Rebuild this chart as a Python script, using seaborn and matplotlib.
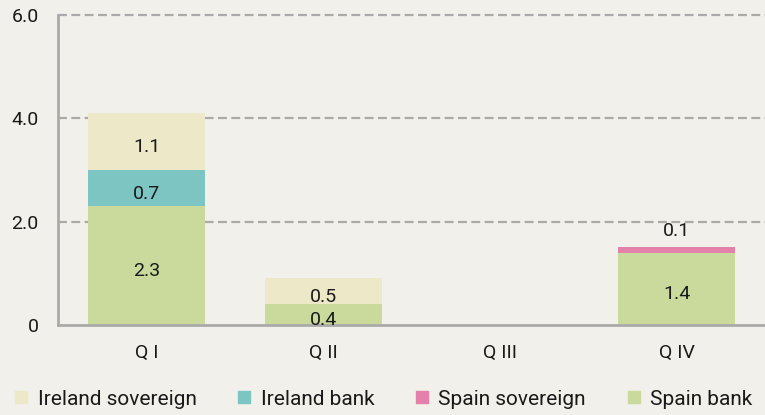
import seaborn as sns
import matplotlib.pyplot as plt
import pandas as pd
import numpy as np
from matplotlib.lines import Line2D

# Data (EUR bn) by quarter
quarters = ["Q I", "Q II", "Q III", "Q IV"]
spain_bank = [2.3, 0.4, 0.0, 1.4]
ireland_bank = [0.7, 0.0, 0.0, 0.0]
spain_sovereign = [0.0, 0.0, 0.0, 0.1]
ireland_sovereign = [1.1, 0.5, 0.0, 0.0]

series = ["Spain bank", "Ireland bank", "Spain sovereign", "Ireland sovereign"]
values = [spain_bank, ireland_bank, spain_sovereign, ireland_sovereign]
colors = {
    "Ireland sovereign": "#ede8c8",
    "Ireland bank": "#7cc5c3",
    "Spain sovereign": "#e381aa",
    "Spain bank": "#c9da9c",
}

bg = "#f1f0ea"
txt = "#1a1a1a"
sns.set_style("white")
plt.rcParams["font.family"] = ["Roboto", "DejaVu Sans"]

fig = plt.figure(figsize=(7.65, 4.15), dpi=100, facecolor=bg)
ax = fig.add_axes([0.076, 0.217, 0.924, 0.747], facecolor=bg)

# cumulative stacks, drawn from the top layer down
cum = np.cumsum(np.array(values), axis=0)
for i in range(len(series) - 1, -1, -1):
    df = pd.DataFrame({"quarter": quarters, "value": cum[i]})
    sns.barplot(data=df, x="quarter", y="value", color=colors[series[i]],
                width=0.66, saturation=1, linewidth=0, edgecolor="none",
                ax=ax, zorder=3)

# value labels
for i, name in enumerate(series):
    for j, q in enumerate(quarters):
        v = values[i][j]
        if v <= 0:
            continue
        base = cum[i][j] - v
        if v < 0.3:
            ax.annotate(f"{v:.1f}", (j, cum[i][j]), xytext=(0, 5), textcoords="offset points",
                        ha="center", va="bottom", fontsize=14, color=txt, zorder=5)
        else:
            ax.annotate(f"{v:.1f}", (j, base + v / 2), xytext=(0, -4), textcoords="offset points",
                        ha="center", va="center", fontsize=14, color=txt, zorder=5)

ax.set_ylim(0, 6)
ax.set_xlim(-0.5, 3.5)
ax.set_yticks([0, 2, 4, 6])
ax.set_yticklabels(["0", "2.0", "4.0", "6.0"])
ax.set_xlabel("")
ax.set_ylabel("")
ax.tick_params(axis="both", length=0, labelsize=14, colors=txt)
ax.tick_params(axis="x", pad=14)
ax.tick_params(axis="y", pad=14)

for y in [2, 4, 6]:
    ax.axhline(y, color="#aaaaaa", lw=1.6, ls=(0, (4, 2)), zorder=1, clip_on=False)

for s in ["top", "right"]:
    ax.spines[s].set_visible(False)
for s in ["left", "bottom"]:
    ax.spines[s].set_color("#aaaaaa")
    ax.spines[s].set_linewidth(2)
    ax.spines[s].set_zorder(4)

legend_order = ["Ireland sovereign", "Ireland bank", "Spain sovereign", "Spain bank"]
handles = [Line2D([], [], marker="s", ls="", markersize=8, color=colors[n]) for n in legend_order]
fig.legend(handles, legend_order, loc="lower left", bbox_to_anchor=(0.0, -0.015, 1.0, 0.1),
           mode="expand", ncol=4, frameon=False, fontsize=15, handletextpad=0.4,
           handlelength=0.8, borderaxespad=0.2, labelcolor=txt)

fig.savefig("out.png", dpi=100, facecolor=bg)
